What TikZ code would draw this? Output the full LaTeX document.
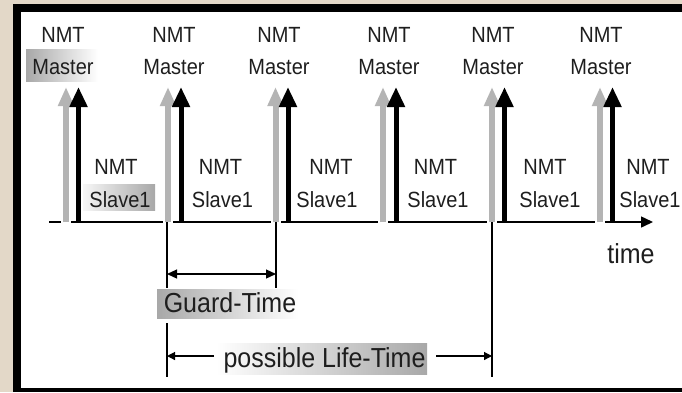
\documentclass[tikz,border=0pt]{standalone}
\usepackage{fontspec}
\setmainfont{Liberation Sans}
\usepackage{graphicx}
\usetikzlibrary{arrows.meta}
\definecolor{beige}{HTML}{E3D8C8}
\definecolor{arrgray}{HTML}{B4B4B4}
\definecolor{boxgray}{HTML}{A8A8A8}
\definecolor{txt}{HTML}{1E1E1E}
\newcommand\tallA[1]{\scalebox{1}[1.1]{#1}}
\begin{document}
\begin{tikzpicture}[x=1pt,y=-1pt,
  small/.style={font=\fontsize{20}{24}\selectfont, text=txt, inner sep=0pt, anchor=base},
  big/.style={font=\fontsize{25}{30}\selectfont, text=txt, inner sep=0pt, anchor=base},
  garrow/.style={draw=arrgray, line width=6pt, -{Triangle[length=19pt,width=15pt]}},
  barrow/.style={draw=black, line width=5pt, -{Triangle[length=20pt,width=17pt]}},
  halo/.style={draw=white, line width=10pt},
  guide/.style={draw=black, line width=1.2pt},
  axis/.style={draw=black, line width=1.5pt, -{Triangle[length=12pt,width=11pt]}},
  span/.style={draw=black, line width=1.2pt, {Triangle[length=10pt,width=9pt]}-{Triangle[length=10pt,width=9pt]}},
  lspan/.style={draw=black, line width=1.2pt, -{Triangle[length=8pt,width=8pt]}}
]
\useasboundingbox (0,0) rectangle (682,392);
% frame
\fill[beige] (0,0) rectangle (682,392);
\fill[black] (13,4) rectangle (682,392);
\fill[white] (21,12) rectangle (682,388);

% highlight boxes
\fill[left color=boxgray, right color=white] (26,49) rectangle (98,81);
\fill[left color=white!90!boxgray, right color=boxgray] (83,184) rectangle (155,210);
\fill[left color=boxgray, right color=white] (157,289) rectangle (298,318);
\fill[left color=white, right color=boxgray] (216,343) rectangle (427,374);

% timeline
\coordinate (t0) at (49,222);
\coordinate (t1) at (653,222);
\draw[axis] (t0) -- (t1);

% arrows
\foreach \i/\g/\b in {1/66/78.5, 2/168/181, 3/275.5/288, 4/383/396, 5/492/504.5, 6/600/612.5}{
  \coordinate (gb\i) at (\g,222);
  \coordinate (gt\i) at (\g,87);
  \coordinate (bb\i) at (\b,221);
  \coordinate (bt\i) at (\b,87);
  \draw[halo] (\g,225) -- (\g,214);
  \draw[garrow] (gb\i) -- (gt\i);
  \draw[barrow] (bb\i) -- (bt\i);
}

% master labels
\foreach \i/\x in {1/63, 2/174, 3/279, 4/389, 5/493, 6/601}{
  \node[small] (mn\i) at (\x,42) {\tallA{NMT}};
  \node[small] (mm\i) at (\x,74) {\tallA{Master}};
}
% slave labels
\foreach \i/\x/\y in {1/116/120, 2/220.5/222.5, 3/331/327, 4/435.5/438, 5/545/550, 6/648/650}{
  \node[small] (sn\i) at (\x,174) {\tallA{NMT}};
  \node[small] (ss\i) at (\y,207) {\tallA{Slave1}};
}

\node[big] (time) at (631,263) {\tallA{time}};

% guide lines
\coordinate (v1a) at (167,222);
\coordinate (v1b) at (167,288);
\coordinate (v1c) at (167,323);
\coordinate (v1d) at (167,377);
\coordinate (v2a) at (276,222);
\coordinate (v2b) at (276,288);
\coordinate (v3a) at (492,222);
\coordinate (v3b) at (492,377);
\draw[guide] (v1a) -- (v1b);
\draw[guide] (v1c) -- (v1d);
\draw[guide] (v2a) -- (v2b);
\draw[guide] (v3a) -- (v3b);

% guard time
\coordinate (g1) at (167,274);
\coordinate (g2) at (276,274);
\draw[span] (g1) -- (g2);
\node[big] (guard) at (230,312) {\tallA{Guard-Time}};

% life time
\node[big] (life) at (324.5,367) {\tallA{possible Life-Time}};
\coordinate (l1) at (167,356);
\coordinate (l2) at (214,356);
\coordinate (l3) at (436,356);
\coordinate (l4) at (492,356);
\draw[lspan] (l2) -- (l1);
\draw[lspan] (l3) -- (l4);
\end{tikzpicture}
\end{document}
